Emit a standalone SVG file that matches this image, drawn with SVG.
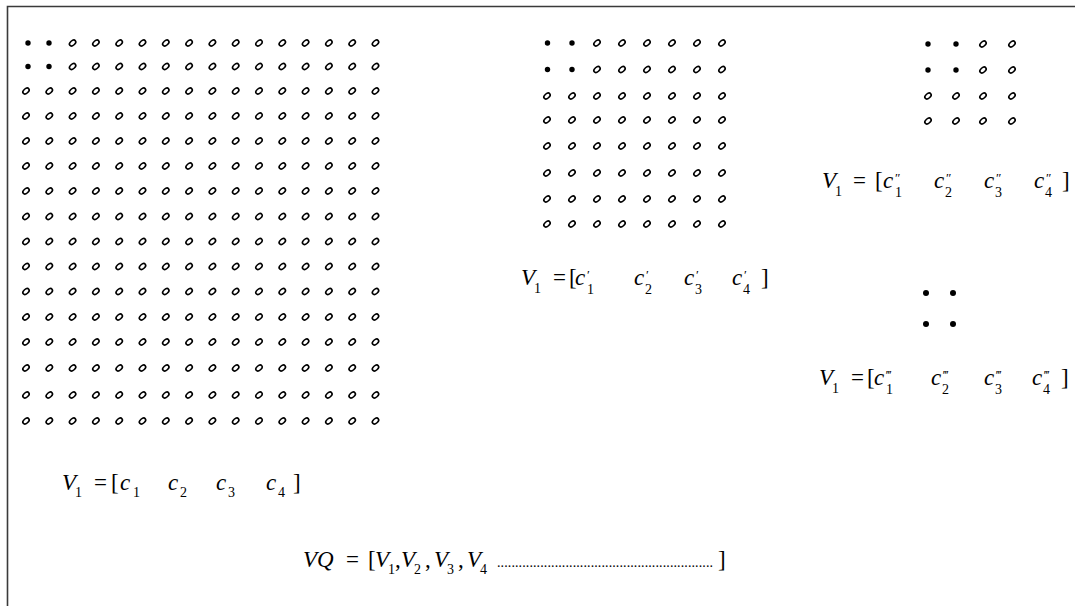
<svg xmlns="http://www.w3.org/2000/svg" xmlns:xlink="http://www.w3.org/1999/xlink" width="1075" height="606" viewBox="0 0 1075 606">
<style>
.t{font-family:"Liberation Serif","DejaVu Serif",serif;fill:#000;font-size:23px}
.i{font-style:italic}
.s{font-size:14px}
.p{font-size:13px}
.frame{fill:none;stroke:#3a3a3a;stroke-width:1.6}
</style>
<defs>
<ellipse id="o" cx="0" cy="0" rx="3.6" ry="2.3" transform="rotate(-40)" fill="none" stroke="#000" stroke-width="1.6"/>
<circle id="d" cx="0" cy="0" r="2.7" fill="#000"/>
<g id="bigO">
<use xlink:href="#o" x="26"/><use xlink:href="#o" x="49.3"/><use xlink:href="#o" x="72.6"/><use xlink:href="#o" x="95.9"/><use xlink:href="#o" x="119.2"/><use xlink:href="#o" x="142.5"/><use xlink:href="#o" x="165.8"/><use xlink:href="#o" x="189.1"/><use xlink:href="#o" x="212.4"/><use xlink:href="#o" x="235.7"/><use xlink:href="#o" x="259"/><use xlink:href="#o" x="282.3"/><use xlink:href="#o" x="305.6"/><use xlink:href="#o" x="328.9"/><use xlink:href="#o" x="352.2"/><use xlink:href="#o" x="375.5"/>
</g>
<g id="bigD">
<use xlink:href="#d" x="28"/><use xlink:href="#d" x="49"/><use xlink:href="#o" x="72.6"/><use xlink:href="#o" x="95.9"/><use xlink:href="#o" x="119.2"/><use xlink:href="#o" x="142.5"/><use xlink:href="#o" x="165.8"/><use xlink:href="#o" x="189.1"/><use xlink:href="#o" x="212.4"/><use xlink:href="#o" x="235.7"/><use xlink:href="#o" x="259"/><use xlink:href="#o" x="282.3"/><use xlink:href="#o" x="305.6"/><use xlink:href="#o" x="328.9"/><use xlink:href="#o" x="352.2"/><use xlink:href="#o" x="375.5"/>
</g>
<g id="medO">
<use xlink:href="#o" x="547"/><use xlink:href="#o" x="572"/><use xlink:href="#o" x="597"/><use xlink:href="#o" x="622"/><use xlink:href="#o" x="647"/><use xlink:href="#o" x="672"/><use xlink:href="#o" x="697"/><use xlink:href="#o" x="722"/>
</g>
<g id="medD">
<use xlink:href="#d" x="547.5"/><use xlink:href="#d" x="572"/><use xlink:href="#o" x="597"/><use xlink:href="#o" x="622"/><use xlink:href="#o" x="647"/><use xlink:href="#o" x="672"/><use xlink:href="#o" x="697"/><use xlink:href="#o" x="722"/>
</g>
<g id="smlO">
<use xlink:href="#o" x="928"/><use xlink:href="#o" x="956"/><use xlink:href="#o" x="983"/><use xlink:href="#o" x="1012"/>
</g>
<g id="smlD">
<use xlink:href="#d" x="928"/><use xlink:href="#d" x="956"/><use xlink:href="#o" x="983"/><use xlink:href="#o" x="1012"/>
</g>
</defs>
<rect width="1075" height="606" fill="#fff"/>
<path class="frame" d="M7.5 606 V6.5 H1075"/>

<g id="grid16">
<use xlink:href="#bigD" y="43"/>
<use xlink:href="#bigD" y="66.5"/>
<use xlink:href="#bigO" y="91"/>
<use xlink:href="#bigO" y="116"/>
<use xlink:href="#bigO" y="141"/>
<use xlink:href="#bigO" y="166"/>
<use xlink:href="#bigO" y="191"/>
<use xlink:href="#bigO" y="216.5"/>
<use xlink:href="#bigO" y="241.5"/>
<use xlink:href="#bigO" y="266.5"/>
<use xlink:href="#bigO" y="291.5"/>
<use xlink:href="#bigO" y="317"/>
<use xlink:href="#bigO" y="342"/>
<use xlink:href="#bigO" y="368"/>
<use xlink:href="#bigO" y="395"/>
<use xlink:href="#bigO" y="421"/>
</g>

<g id="grid8">
<use xlink:href="#medD" y="43"/>
<use xlink:href="#medD" y="69.5"/>
<use xlink:href="#medO" y="96"/>
<use xlink:href="#medO" y="120"/>
<use xlink:href="#medO" y="146"/>
<use xlink:href="#medO" y="173"/>
<use xlink:href="#medO" y="199"/>
<use xlink:href="#medO" y="224"/>
</g>

<g id="grid4">
<use xlink:href="#smlD" y="44"/>
<use xlink:href="#smlD" y="70"/>
<use xlink:href="#smlO" y="96"/>
<use xlink:href="#smlO" y="121"/>
</g>

<g id="grid2">
<circle cx="926" cy="293" r="3"/>
<circle cx="953" cy="293" r="3"/>
<circle cx="926" cy="324" r="3"/>
<circle cx="953" cy="324" r="3"/>
</g>

<g id="label-big" class="t">
<text><tspan class="i" x="62" y="490">V</tspan><tspan class="s" x="75" y="497">1</tspan><tspan x="94" y="490">=</tspan><tspan x="111" y="490">[</tspan><tspan class="i" x="120" y="490">c</tspan><tspan class="s" x="133" y="497">1</tspan><tspan class="i" x="168" y="490">c</tspan><tspan class="s" x="180" y="497">2</tspan><tspan class="i" x="216" y="490">c</tspan><tspan class="s" x="228" y="497">3</tspan><tspan class="i" x="266" y="490">c</tspan><tspan class="s" x="278" y="497">4</tspan><tspan x="293" y="490">]</tspan></text>
</g>

<g id="label-med" class="t">
<text><tspan class="i" x="521" y="285">V</tspan><tspan class="s" x="534" y="293">1</tspan><tspan x="553" y="285">=</tspan><tspan x="569" y="285">[</tspan><tspan class="i" x="575" y="285">c</tspan><tspan class="p" x="587" y="279">′</tspan><tspan class="s" x="587" y="294">1</tspan><tspan class="i" x="634" y="285">c</tspan><tspan class="p" x="646" y="279">′</tspan><tspan class="s" x="645" y="294">2</tspan><tspan class="i" x="684" y="285">c</tspan><tspan class="p" x="696" y="279">′</tspan><tspan class="s" x="695" y="294">3</tspan><tspan class="i" x="732" y="285">c</tspan><tspan class="p" x="744" y="279">′</tspan><tspan class="s" x="743" y="294">4</tspan><tspan x="761" y="285">]</tspan></text>
</g>

<g id="label-small" class="t">
<text><tspan class="i" x="822" y="188">V</tspan><tspan class="s" x="835" y="196">1</tspan><tspan x="853" y="188">=</tspan><tspan x="875" y="188">[</tspan><tspan class="i" x="883" y="188">c</tspan><tspan class="p" x="895" y="182">″</tspan><tspan class="s" x="895" y="197">1</tspan><tspan class="i" x="934" y="188">c</tspan><tspan class="p" x="946" y="182">″</tspan><tspan class="s" x="945" y="197">2</tspan><tspan class="i" x="984" y="188">c</tspan><tspan class="p" x="996" y="182">″</tspan><tspan class="s" x="995" y="197">3</tspan><tspan class="i" x="1034" y="188">c</tspan><tspan class="p" x="1046" y="182">″</tspan><tspan class="s" x="1045" y="197">4</tspan><tspan x="1062" y="188">]</tspan></text>
</g>

<g id="label-tiny" class="t">
<text><tspan class="i" x="819" y="385">V</tspan><tspan class="s" x="832" y="393">1</tspan><tspan x="851" y="385">=</tspan><tspan x="867" y="385">[</tspan><tspan class="i" x="874" y="385">c</tspan><tspan class="p" x="886" y="379">‴</tspan><tspan class="s" x="886" y="394">1</tspan><tspan class="i" x="931" y="385">c</tspan><tspan class="p" x="943" y="379">‴</tspan><tspan class="s" x="942" y="394">2</tspan><tspan class="i" x="984" y="385">c</tspan><tspan class="p" x="996" y="379">‴</tspan><tspan class="s" x="995" y="394">3</tspan><tspan class="i" x="1032" y="385">c</tspan><tspan class="p" x="1044" y="379">‴</tspan><tspan class="s" x="1043" y="394">4</tspan><tspan x="1061" y="385">]</tspan></text>
</g>

<g id="label-vq" class="t">
<text><tspan class="i" x="303" y="567">VQ</tspan><tspan x="346" y="567">=</tspan><tspan x="368" y="567">[</tspan><tspan class="i" x="375" y="567">V</tspan><tspan class="s" x="388" y="574">1</tspan><tspan x="395" y="567">,</tspan><tspan class="i" x="401" y="567">V</tspan><tspan class="s" x="414" y="574">2</tspan><tspan x="425" y="567">,</tspan><tspan class="i" x="434" y="567">V</tspan><tspan class="s" x="447" y="574">3</tspan><tspan x="458" y="567">,</tspan><tspan class="i" x="467" y="567">V</tspan><tspan class="s" x="480" y="574">4</tspan></text>
<text class="s" x="497" y="567" textLength="216" lengthAdjust="spacing">............................................................</text>
<text x="718" y="567">]</text>
</g>
</svg>
